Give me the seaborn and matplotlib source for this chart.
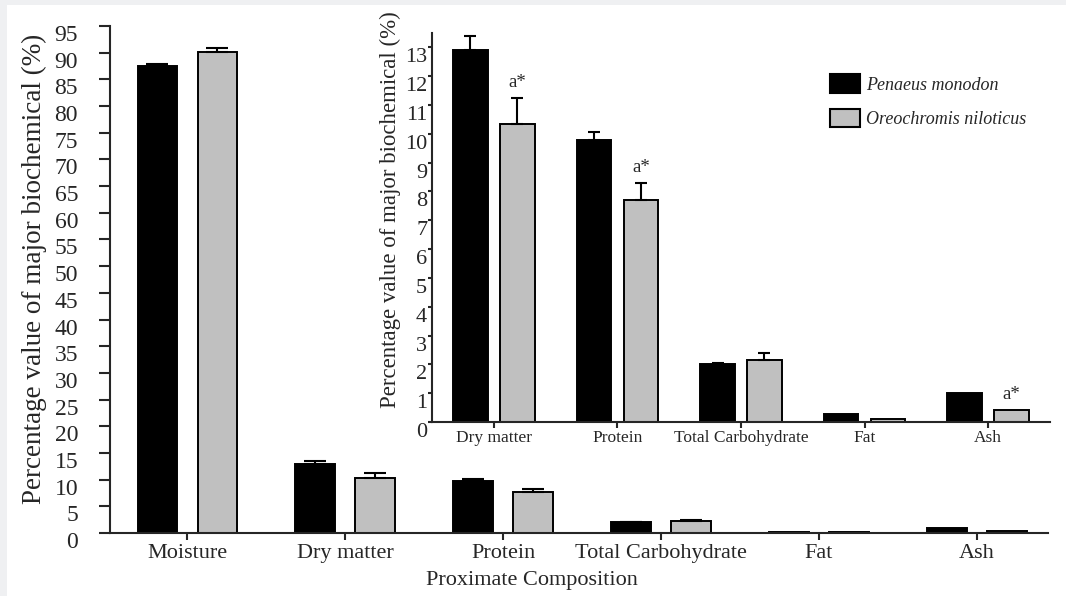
import matplotlib
matplotlib.use('Agg')
import matplotlib.pyplot as plt
import matplotlib.transforms as mtransforms
from matplotlib.patches import Patch, Rectangle
import pandas as pd
import seaborn as sns

categories = ['Moisture', 'Dry matter', 'Protein', 'Total Carbohydrate', 'Fat', 'Ash']
species = ['Penaeus monodon', 'Oreochromis niloticus']
monodon_mean = [87.5, 12.9, 9.8, 2.0, 0.28, 1.02]
monodon_err = [0.4, 0.5, 0.27, 0.06, 0.0, 0.0]
niloticus_mean = [90.1, 10.35, 7.7, 2.16, 0.12, 0.43]
niloticus_err = [0.8, 0.9, 0.6, 0.23, 0.0, 0.0]
sig_marks = ['', 'a*', 'a*', '', '', 'a*']

colors = {species[0]: 'black', species[1]: '#c0c0c0'}
serif = 'Liberation Serif'

sns.set_style('ticks')
plt.rcParams['font.family'] = [serif, 'DejaVu Serif']


def make_df(start):
    n = len(categories) - start
    return pd.DataFrame({
        'category': categories[start:] * 2,
        'species': [species[0]] * n + [species[1]] * n,
        'value': monodon_mean[start:] + niloticus_mean[start:],
    })


def draw_panel(ax, start, gap, capsize):
    df = make_df(start)
    sns.barplot(data=df, x='category', y='value', hue='species', palette=colors,
                hue_order=species, width=0.76, gap=gap, saturation=1, legend=False,
                edgecolor='black', linewidth=1.4, ax=ax, zorder=2)
    n = len(categories) - start
    bars = ax.patches[:2 * n]
    errs = monodon_err[start:] + niloticus_err[start:]
    xs, ys, es = [], [], []
    for p, e in zip(bars, errs):
        if e > 0:
            xs.append(p.get_x() + p.get_width() / 2)
            ys.append(p.get_height())
            es.append(e)
    ax.errorbar(xs, ys, yerr=[[0] * len(es), es], fmt='none', ecolor='black',
                elinewidth=1.5, capthick=1.5, capsize=capsize, zorder=3)
    sns.despine(ax=ax)
    for side in ['left', 'bottom']:
        ax.spines[side].set_linewidth(1.5)
    ax.set_xlabel('')
    ax.set_ylabel('')
    return bars, n


def shift_ylabels(ax, px):
    off = mtransforms.ScaledTranslation(0, -px / 100, ax.figure.dpi_scale_trans)
    for lab in ax.get_yticklabels():
        lab.set_transform(lab.get_transform() + off)


fig = plt.figure(figsize=(10.66, 5.96), dpi=100, facecolor='#eff0f2')
fig.patches.append(Rectangle((7 / 1066, 0), 1, 1 - 5 / 596, transform=fig.transFigure,
                             facecolor='white', edgecolor='none', zorder=-10))

# main axes
ax = fig.add_axes([110 / 1066, 1 - 533 / 596, 938 / 1066, 507 / 596])
ax.set_facecolor('none')
draw_panel(ax, 0, 0.34, 8)
ax.set_ylim(0, 95)
ax.set_yticks(range(0, 96, 5))
ax.set_xlim(-0.49, 5.45)
ax.tick_params(axis='y', length=8, width=1.5, pad=15, labelsize=17)
ax.tick_params(axis='x', length=5, width=1.5, pad=3, labelsize=16)
ax.set_xlabel('Proximate Composition', fontsize=16)
ax.xaxis.set_label_coords(0.45, -0.075)
ax.set_ylabel('Percentage value of major biochemical (%)', fontsize=19.5)
ax.yaxis.set_label_coords(-0.067, 0.52)

# inset axes
ins = fig.add_axes([432 / 1066, 1 - 422 / 596, 618 / 1066, 389 / 596])
ins.set_facecolor('none')
bars, n = draw_panel(ins, 1, 0.26, 4.5)
ins.set_ylim(0, 13.5)
ins.set_yticks(range(0, 14))
ins.set_xlim(-0.5, 4.5)
ins.tick_params(axis='y', length=3, width=1.5, pad=0.5, labelsize=16)
ins.tick_params(axis='x', length=4, width=1.5, pad=2, labelsize=12.5)
ins.set_ylabel('Percentage value of major biochemical (%)', fontsize=16.5)
ins.yaxis.set_label_coords(-0.05, 0.545)

for p, mark, e in zip(bars[n:], sig_marks[1:], niloticus_err[1:]):
    if mark:
        ins.annotate(mark, (p.get_x() + p.get_width() / 2, p.get_height() + e),
                     xytext=(0, 5), textcoords='offset points', ha='center',
                     va='bottom', fontsize=13.5)

handles = [Patch(facecolor=colors[s], edgecolor='black', linewidth=1.5) for s in species]
fig.legend(handles, species, loc='upper left', bbox_to_anchor=(814 / 1066, 1 - 58 / 596),
           frameon=False, prop={'family': serif, 'style': 'italic', 'size': 13},
           handlelength=1.65, handleheight=1.2, handletextpad=0.35, labelspacing=0.85)

shift_ylabels(ax, 7)
shift_ylabels(ins, 8)

fig.savefig('out.png', dpi=100, facecolor=fig.get_facecolor())
